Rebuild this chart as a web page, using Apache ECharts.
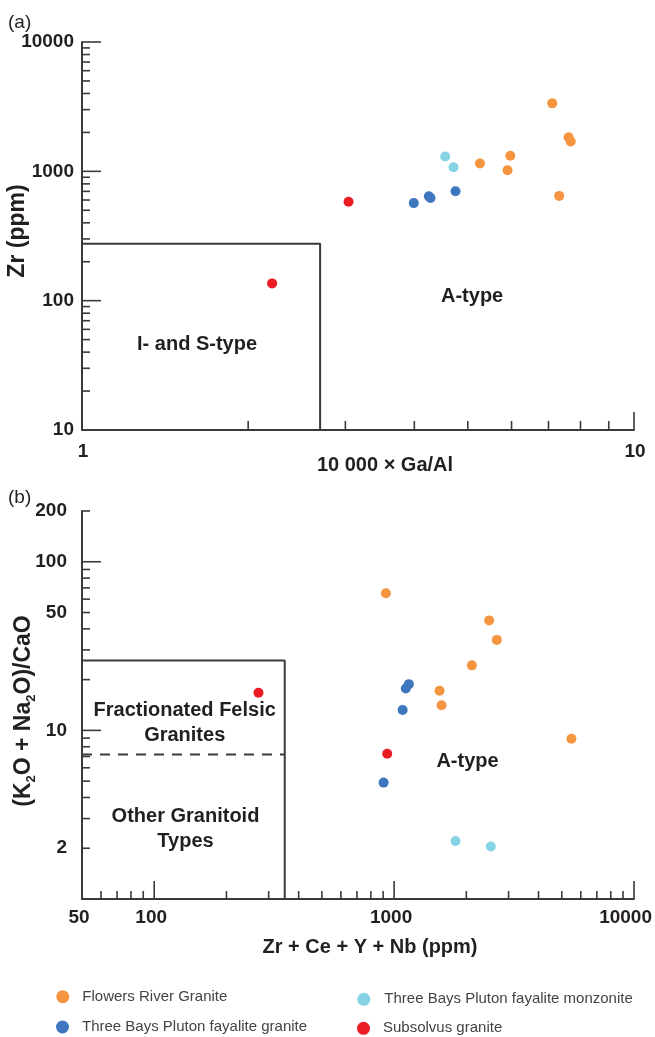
<!DOCTYPE html>
<html>
<head>
<meta charset="utf-8">
<script src="https://cdn.jsdelivr.net/npm/echarts@6/dist/echarts.min.js"></script>
<style>
  html, body { margin: 0; padding: 0; background: #ffffff; }
  #chart { width: 655px; height: 1037px; }
</style>
</head>
<body>
<div id="chart"></div>
<script>
// ---- Panel (a): Zr (ppm) against 10 000 x Ga/Al ----
const flowersA     = [[5.26, 1152], [5.97, 1320], [5.90, 1018], [7.11, 3354], [7.61, 1836], [7.68, 1702], [7.32, 646]];
const baysGraniteA = [[3.99, 568], [4.25, 642], [4.28, 623], [4.75, 702]];
const baysMonzA    = [[4.55, 1304], [4.71, 1074]];
const subsolvusA   = [[3.04, 581], [2.21, 136]];

// Field boundary of the I- and S-type granites
const boxA = [[1, 275], [2.7, 275], [2.7, 10]];

// ---- Panel (b): (K2O + Na2O)/CaO against Zr + Ce + Y + Nb ----
const flowersB     = [[924, 65.1], [2490, 44.9], [2680, 34.4], [2109, 24.3], [1547, 17.2], [1577, 14.1], [5486, 8.92]];
const baysGraniteB = [[1152, 18.8], [1119, 17.7], [1085, 13.2], [904, 4.9]];
const baysMonzB    = [[1803, 2.21], [2530, 2.05]];
const subsolvusB   = [[936, 7.26], [272, 16.7]];

// Field boundaries: felsic/other granitoids box and the dividing dashed line
const boxB  = [[50, 26], [350, 26], [350, 1]];
const dashB = [[50, 7.2], [350, 7.2]];

// Series names
const groupNames = ['Flowers River Granite', 'Three Bays Pluton fayalite granite',
                    'Three Bays Pluton fayalite monzonite', 'Subsolvus granite'];

// Axis ranges and tick values
const aXRange = [1, 10];
const aYRange = [10, 10000];
const bXRange = [50, 10000];
const bYRange = [1, 200];

const aXMajor = [10];
const aXMinor = [2, 3, 4, 5, 6, 7, 8, 9];
const aYMajor = [100, 1000, 10000];
const aYMinor = [20, 30, 40, 50, 60, 70, 80, 90, 200, 300, 400, 500, 600, 700, 800, 900,
                 2000, 3000, 4000, 5000, 6000, 7000, 8000, 9000];
const aXLabels = [1, 10];
const aYLabels = [10, 100, 1000, 10000];

const bXMajor = [100, 1000, 10000];
const bXMinor = [60, 70, 80, 90, 200, 300, 400, 500, 600, 700, 800, 900,
                 2000, 3000, 4000, 5000, 6000, 7000, 8000, 9000];
const bYMajor = [10, 100];
const bYMinor = [2, 3, 4, 5, 6, 7, 8, 9, 20, 30, 40, 50, 60, 70, 80, 90, 200];
const bXLabels = [50, 100, 1000, 10000];
const bYLabels = [2, 10, 50, 100, 200];

// Field names placed in data space
const fieldLabelsA = [
  { text: 'I- and S-type', at: [1.616, 45.9] },
  { text: 'A-type', at: [5.09, 107] }
];
const fieldLabelsB = [
  { text: 'Fractionated Felsic\nGranites', at: [134, 11.08] },
  { text: 'Other Granitoid\nTypes', at: [135, 2.6] },
  { text: 'A-type', at: [2023, 6.57] }
];

const FONT = '"Liberation Sans", Arial, Helvetica, sans-serif';
const INK = '#231f20';
const AXIS = '#3a3a3a';
const COLORS = ['#f5953f', '#3e77bd', '#86d3e6', '#ec1c24'];
const CHART_W = 655;

function tickSeries(gi, dim, values, base, len) {
  return {
    type: 'custom', xAxisIndex: gi, yAxisIndex: gi, silent: true, z: 4,
    data: values.map(v => dim === 'x' ? [v, base] : [base, v]),
    renderItem: (params, api) => {
      const p = api.coord([api.value(0), api.value(1)]);
      const shape = dim === 'x'
        ? { x1: p[0], y1: p[1], x2: p[0], y2: p[1] - len }
        : { x1: p[0], y1: p[1], x2: p[0] + len, y2: p[1] };
      return { type: 'line', shape: shape, style: { stroke: AXIS, lineWidth: 1.6 } };
    }
  };
}

function tickLabelSeries(gi, dim, values, base, offset, shift) {
  const font = 'bold 19px ' + FONT;
  return {
    type: 'custom', xAxisIndex: gi, yAxisIndex: gi, silent: true, z: 4,
    data: values.map(v => dim === 'x' ? [v, base] : [base, v]),
    renderItem: (params, api) => {
      const p = api.coord([api.value(0), api.value(1)]);
      const text = String(values[params.dataIndex]);
      let x = dim === 'x' ? p[0] + shift : p[0] - offset;
      if (dim === 'x') {
        // keep the last label inside the canvas
        const half = echarts.format.getTextRect
          ? echarts.format.getTextRect(text, font).width / 2 : text.length * 5.3;
        x = Math.min(x, CHART_W - 3 - half);
      }
      return {
        type: 'text',
        x: x,
        y: dim === 'x' ? p[1] + offset : p[1],
        style: {
          text: text,
          align: dim === 'x' ? 'center' : 'right',
          verticalAlign: 'middle',
          font: font,
          fill: INK
        }
      };
    }
  };
}

function fieldLabelSeries(gi, labels) {
  return {
    type: 'custom', xAxisIndex: gi, yAxisIndex: gi, silent: true, z: 4,
    data: labels.map(l => l.at),
    renderItem: (params, api) => {
      const p = api.coord([api.value(0), api.value(1)]);
      return {
        type: 'text', x: p[0], y: p[1],
        style: {
          text: labels[params.dataIndex].text,
          align: 'center', verticalAlign: 'middle',
          font: 'bold 20px ' + FONT, lineHeight: 25, fill: INK
        }
      };
    }
  };
}

function boundary(gi, data, dashed) {
  return {
    type: 'line', xAxisIndex: gi, yAxisIndex: gi, data: data, silent: true, z: 3,
    symbol: 'none',
    lineStyle: { color: AXIS, width: 2, type: dashed ? [10, 8] : 'solid' }
  };
}

function points(gi, name, data, color) {
  return {
    type: 'scatter', name: name, xAxisIndex: gi, yAxisIndex: gi, data: data, z: 10,
    symbolSize: 10, itemStyle: { color: color, opacity: 1 }
  };
}

function logAxis(gi, range) {
  return {
    type: 'log', logBase: 10, gridIndex: gi, min: range[0], max: range[1],
    axisLine: { show: true, onZero: false, lineStyle: { color: AXIS, width: 2 } },
    axisTick: { show: false }, axisLabel: { show: false },
    splitLine: { show: false }, minorTick: { show: false }
  };
}

// One legend entry per group so each sits at its own place in the two-column key
function legendEntry(name, left, top, gap) {
  return {
    data: [name], left: left, top: top, orient: 'horizontal',
    icon: 'circle', itemWidth: 13, itemHeight: 13, selectedMode: false,
    textStyle: { fontFamily: FONT, fontSize: 15, color: '#444444', lineHeight: 13, padding: [0, 0, 0, gap] }
  };
}

const chart = echarts.init(document.getElementById('chart'), null, { renderer: 'canvas' });

chart.setOption({
  animation: false,
  backgroundColor: '#ffffff',
  grid: [
    { left: 82, top: 42, width: 552, height: 388 },
    { left: 82, top: 511, width: 552, height: 388 }
  ],
  xAxis: [logAxis(0, aXRange), logAxis(1, bXRange)],
  yAxis: [logAxis(0, aYRange), logAxis(1, bYRange)],
  legend: [
    legendEntry(groupNames[0], 51.3, 984.2, 8),
    legendEntry(groupNames[1], 51.0, 1014.5, 8),
    legendEntry(groupNames[2], 352.3, 986.8, 9),
    legendEntry(groupNames[3], 352.0, 1015.8, 8)
  ],
  graphic: [
    { type: 'text', x: 8, y: 23, style: { text: '(a)', font: '19px ' + FONT, fill: INK, verticalAlign: 'middle' } },
    { type: 'text', x: 8, y: 498, style: { text: '(b)', font: '19px ' + FONT, fill: INK, verticalAlign: 'middle' } },
    { type: 'text', x: 385, y: 465, style: { text: '10 000 \u00d7 Ga/Al', font: 'bold 20px ' + FONT, fill: INK, align: 'center', verticalAlign: 'middle' } },
    { type: 'text', x: 370, y: 947, style: { text: 'Zr + Ce + Y + Nb (ppm)', font: 'bold 20px ' + FONT, fill: INK, align: 'center', verticalAlign: 'middle' } },
    { type: 'text', x: 18, y: 231, rotation: Math.PI / 2,
      style: { text: 'Zr (ppm)', font: 'bold 23px ' + FONT, fill: INK, align: 'center', verticalAlign: 'middle' } },
    { type: 'text', x: 24, y: 711, rotation: Math.PI / 2,
      style: {
        text: '{m|(K}{s|2}{m|O + Na}{s|2}{m|O)/CaO}',
        align: 'center', verticalAlign: 'middle',
        rich: {
          m: { font: 'bold 23px ' + FONT, fill: INK, lineHeight: 27 },
          s: { font: 'bold 13px ' + FONT, fill: INK, lineHeight: 12, verticalAlign: 'bottom' }
        }
      } }
  ],
  series: [
    boundary(0, boxA, false),
    boundary(1, boxB, false),
    boundary(1, dashB, true),

    tickSeries(0, 'x', aXMajor, aYRange[0], 18),
    tickSeries(0, 'x', aXMinor, aYRange[0], 9),
    tickSeries(0, 'y', aYMajor, aXRange[0], 19),
    tickSeries(0, 'y', aYMinor, aXRange[0], 8),
    tickSeries(1, 'x', bXMajor, bYRange[0], 18),
    tickSeries(1, 'x', bXMinor, bYRange[0], 8),
    tickSeries(1, 'y', bYMajor, bXRange[0], 19),
    tickSeries(1, 'y', bYMinor, bXRange[0], 8),

    tickLabelSeries(0, 'x', aXLabels, aYRange[0], 22, 1),
    tickLabelSeries(0, 'y', aYLabels, aXRange[0], 8, 0),
    tickLabelSeries(1, 'x', bXLabels, bYRange[0], 19, -3),
    tickLabelSeries(1, 'y', bYLabels, bXRange[0], 15, 0),

    fieldLabelSeries(0, fieldLabelsA),
    fieldLabelSeries(1, fieldLabelsB),

    points(0, groupNames[0], flowersA, COLORS[0]),
    points(0, groupNames[1], baysGraniteA, COLORS[1]),
    points(0, groupNames[2], baysMonzA, COLORS[2]),
    points(0, groupNames[3], subsolvusA, COLORS[3]),
    points(1, groupNames[0], flowersB, COLORS[0]),
    points(1, groupNames[1], baysGraniteB, COLORS[1]),
    points(1, groupNames[2], baysMonzB, COLORS[2]),
    points(1, groupNames[3], subsolvusB, COLORS[3])
  ]
});
</script>
</body>
</html>
